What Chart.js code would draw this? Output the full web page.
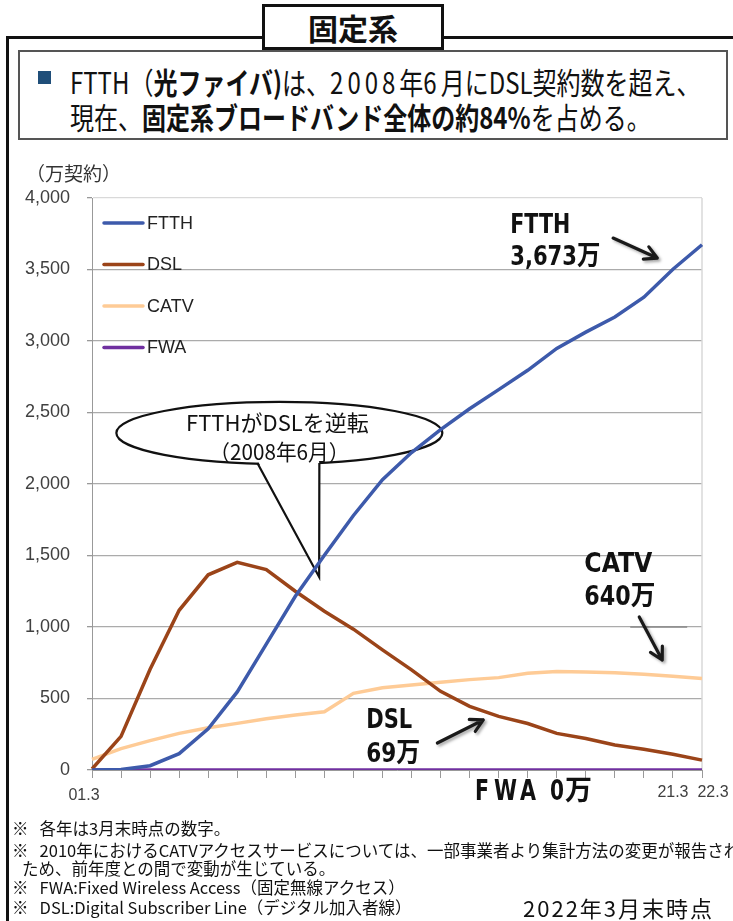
<!DOCTYPE html>
<html>
<head>
<meta charset="utf-8">
<script src="https://cdn.jsdelivr.net/npm/chart.js@4"></script>
<style>
  html, body { margin: 0; padding: 0; background: #fff; }
  body { width: 733px; height: 921px; position: relative; overflow: hidden; font-family: "Noto Sans CJK JP", sans-serif; color: #111; }
  #chart { position: absolute; left: 0; top: 0; }
  .abs { position: absolute; white-space: nowrap; }
  .squeeze { display: inline-block; transform-origin: left center; transform: scaleX(0.8); }
  .dg { letter-spacing: 5px; }
  .note { position: absolute; white-space: nowrap; font-size: 16.5px; line-height: 20px; }
</style>
</head>
<body>
<canvas id="chart" width="733" height="921"></canvas>

<!-- frame and heading -->
<div class="abs" style="left:6px;top:36px;width:727px;height:3px;background:#111"></div>
<div class="abs" style="left:6px;top:36px;width:3px;height:885px;background:#111"></div>
<div class="abs" style="left:262px;top:4px;width:176px;height:40px;border:3px solid #111;background:#fff;text-align:center;font-weight:bold;font-size:30px;line-height:40px">固定系</div>
<div class="abs" style="left:18px;top:50px;width:706px;height:86px;border:2px solid #555;background:#fff"></div>
<div class="abs" style="left:38px;top:71px;width:13px;height:13px;background:#1f4e79"></div>
<div class="abs" style="left:70px;top:64px;font-size:30px;line-height:35px">
  <span class="squeeze">FTTH（<b>光ファイバ)</b>は、<span class="dg">2008</span>年<span class="dg">6</span>月にDSL契約数を超え、</span><br>
  <span class="squeeze">現在、<b>固定系ブロードバンド全体の約84%</b>を占める。</span>
</div>
<div class="abs" style="left:26px;top:159px;font-size:19px;color:#333">（万契約）</div>

<!-- notes -->
<div class="note" style="left:12px;top:818px">※&nbsp;&nbsp; 各年は3月末時点の数字。</div>
<div class="note" style="left:12px;top:840px">※&nbsp;&nbsp; 2010年におけるCATVアクセスサービスについては、一部事業者より集計方法の変更が報告された</div>
<div class="note" style="left:22px;top:858px">ため、前年度との間で変動が生じている。</div>
<div class="note" style="left:12px;top:877px">※&nbsp;&nbsp; FWA:Fixed Wireless Access（固定無線アクセス）</div>
<div class="note" style="left:12px;top:897px">※&nbsp;&nbsp; DSL:Digital Subscriber Line（デジタル加入者線）</div>
<div class="abs" style="left:523px;top:893px;font-size:22px;line-height:28px;letter-spacing:2px">2022年3月末時点</div>

<script>
// data (万契約, 3月末)
const years = ['01.3', '02.3', '03.3', '04.3', '05.3', '06.3', '07.3', '08.3', '09.3', '10.3', '11.3',
  '12.3', '13.3', '14.3', '15.3', '16.3', '17.3', '18.3', '19.3', '20.3', '21.3', '22.3'];
const ftth = [0, 3, 30, 114, 288, 546, 880, 1215, 1502, 1780, 2030, 2220, 2380, 2526, 2660, 2795, 2948, 3062, 3168, 3306, 3502, 3673];
const dsl = [7, 235, 705, 1117, 1365, 1452, 1401, 1250, 1110, 985, 840, 700, 550, 445, 375, 325, 256, 220, 175, 145, 110, 69];
const catv = [75, 150, 205, 256, 296, 326, 358, 384, 407, 536, 575, 594, 614, 632, 646, 676, 688, 685, 680, 670, 656, 640];
const fwa = [0, 0, 0, 0, 0, 0, 0, 0, 0, 0, 0, 0, 0, 0, 0, 0, 0, 0, 0, 0, 0, 0];
const shownYears = ['01.3', '21.3', '22.3'];

const colors = { FTTH: '#3d5aab', DSL: '#9b4419', CATV: '#fecb96', FWA: '#7030a0' };
const boldFont = '"Liberation Sans Narrow", "DejaVu Sans Condensed", "Noto Sans CJK JP", sans-serif';

function arrow(ctx, x1, y1, x2, y2) {
  const ang = Math.atan2(y2 - y1, x2 - x1), len = 14, spread = 0.5;
  ctx.save();
  ctx.strokeStyle = '#1a1a1a';
  ctx.lineWidth = 3.2;
  ctx.lineCap = 'round';
  ctx.lineJoin = 'round';
  ctx.shadowColor = 'rgba(0,0,0,0.35)';
  ctx.shadowBlur = 3;
  ctx.shadowOffsetX = 2;
  ctx.shadowOffsetY = 2;
  ctx.beginPath();
  ctx.moveTo(x1, y1);
  ctx.lineTo(x2, y2);
  ctx.moveTo(x2 - len * Math.cos(ang - spread), y2 - len * Math.sin(ang - spread));
  ctx.lineTo(x2, y2);
  ctx.lineTo(x2 - len * Math.cos(ang + spread), y2 - len * Math.sin(ang + spread));
  ctx.stroke();
  ctx.restore();
}

const overlay = {
  id: 'overlay',
  beforeDatasetsDraw(chart) {
    const { ctx, chartArea: a, scales: { x, y } } = chart;
    ctx.save();
    // right border of plot
    ctx.strokeStyle = '#d9d9d9';
    ctx.lineWidth = 1.5;
    ctx.beginPath();
    ctx.moveTo(a.right, a.top);
    ctx.lineTo(a.right, a.bottom);
    ctx.stroke();
    // stray grey segment near CATV label
    ctx.strokeStyle = '#888';
    ctx.lineWidth = 1.5;
    ctx.beginPath();
    ctx.moveTo(x.getPixelForValue(18.53), y.getPixelForValue(1000));
    ctx.lineTo(x.getPixelForValue(20.49), y.getPixelForValue(1000));
    ctx.stroke();

    // callout bubble
    const cx = x.getPixelForValue(6.45), cy = y.getPixelForValue(2357);
    ctx.fillStyle = '#fff';
    ctx.strokeStyle = '#111';
    ctx.lineWidth = 2.2;
    ctx.beginPath();
    ctx.ellipse(cx, cy, 163, 31, 0, 0, Math.PI * 2);
    ctx.fill();
    ctx.stroke();
    const tipX = x.getPixelForValue(7.82), tipY = y.getPixelForValue(1350);
    const bl = cx - 22, br = cx + 40, by = cy + 30;
    ctx.beginPath();
    ctx.moveTo(bl, by - 3);
    ctx.lineTo(tipX, tipY);
    ctx.lineTo(br, by - 3);
    ctx.closePath();
    ctx.fill();
    ctx.beginPath();
    ctx.moveTo(bl, by);
    ctx.lineTo(tipX, tipY);
    ctx.lineTo(br, by);
    ctx.stroke();
    ctx.fillStyle = '#111';
    ctx.textAlign = 'center';
    ctx.textBaseline = 'middle';
    ctx.font = '22px "Noto Sans CJK JP", sans-serif';
    ctx.fillText('FTTHがDSLを逆転', cx - 2, cy - 10, 185);
    ctx.fillText('（2008年6月）', cx, cy + 19, 140);
    ctx.restore();
  },
  afterDatasetsDraw(chart) {
    const { ctx, chartArea: a, scales: { x, y } } = chart;
    ctx.save();

    // legend
    ctx.font = '18px "Liberation Sans", Arial, sans-serif';
    ctx.textBaseline = 'middle';
    chart.data.datasets.forEach((ds, k) => {
      const ly = a.top + 25 + k * 41.5;
      ctx.strokeStyle = ds.borderColor;
      ctx.lineWidth = 3.5;
      ctx.lineCap = 'round';
      ctx.beginPath();
      ctx.moveTo(a.left + 12, ly);
      ctx.lineTo(a.left + 51, ly);
      ctx.stroke();
      ctx.fillStyle = '#222';
      ctx.fillText(ds.label, a.left + 55, ly + 1);
    });

    // x labels
    ctx.font = '16px "Liberation Sans", Arial, sans-serif';
    ctx.fillStyle = '#404040';
    ctx.textAlign = 'center';
    ctx.fillText(shownYears[0], x.getPixelForValue(years.indexOf(shownYears[0])) - 8, a.bottom + 26);
    ctx.fillText(shownYears[1], x.getPixelForValue(years.indexOf(shownYears[1])), a.bottom + 23);
    ctx.fillText(shownYears[2], x.getPixelForValue(years.indexOf(shownYears[2])) + 11, a.bottom + 23);

    // value labels
    ctx.fillStyle = '#111';
    ctx.textAlign = 'left';
    ctx.textBaseline = 'alphabetic';
    ctx.font = 'bold 27px ' + boldFont;
    const lx = i => x.getPixelForValue(i);
    ctx.fillText('FTTH', lx(14.4), y.getPixelForValue(3755), 60);
    ctx.fillText('3,673万', lx(14.4), y.getPixelForValue(3531), 90);
    ctx.fillText('CATV', lx(16.95), y.getPixelForValue(1385), 68);
    ctx.fillText('640万', lx(16.95), y.getPixelForValue(1154), 71);
    ctx.fillText('DSL', lx(9.44), y.getPixelForValue(294), 46);
    ctx.fillText('69万', lx(9.44), y.getPixelForValue(56), 54);
    // FWA 0万, spaced out
    ctx.font = 'bold 28px ' + boldFont;
    const fy = a.bottom + 30;
    [['F', 475, 14], ['W', 494, 23], ['A', 520, 16], ['0', 550, 14], ['万', 565, 27]].forEach(([t, px, w]) => {
      ctx.fillText(t, px, fy, w);
    });

    arrow(ctx, lx(17.94), y.getPixelForValue(3720), lx(19.46), y.getPixelForValue(3580));
    arrow(ctx, lx(18.84), y.getPixelForValue(1070), lx(19.63), y.getPixelForValue(769));
    arrow(ctx, lx(11.89), y.getPixelForValue(189), lx(13.47), y.getPixelForValue(350));
    ctx.restore();
  }
};

const ds = (label, data) => ({
  label, data,
  borderColor: colors[label],
  backgroundColor: colors[label],
  borderWidth: 3.5,
  pointRadius: 0,
  tension: 0,
  fill: false
});

const ctx = document.getElementById('chart').getContext('2d');
new Chart(ctx, {
  type: 'line',
  data: {
    labels: years,
    datasets: [ds('FTTH', ftth), ds('DSL', dsl), ds('CATV', catv), ds('FWA', fwa)]
  },
  options: {
    responsive: false,
    animation: false,
    layout: { padding: { top: 198, right: 31, bottom: 131, left: 0 } },
    plugins: { legend: { display: false }, tooltip: { enabled: false } },
    scales: {
      x: {
        ticks: { display: false },
        grid: { drawOnChartArea: false, drawTicks: true, tickLength: 8, color: '#999' },
        border: { color: '#999' },
        afterFit: s => { s.height = 20; }
      },
      y: {
        min: 0,
        max: 4000,
        ticks: {
          stepSize: 500,
          padding: 17,
          color: '#404040',
          font: { family: '"Liberation Sans", Arial, sans-serif', size: 18 }
        },
        grid: {
          color: c => (c.tick && c.tick.value === 4000 ? '#d9d9d9' : '#ababab'),
          tickColor: '#999',
          lineWidth: 1.3,
          tickLength: 5
        },
        border: { color: '#999' },
        afterFit: s => { s.width = 92; }
      }
    }
  },
  plugins: [overlay]
});
</script>
</body>
</html>
